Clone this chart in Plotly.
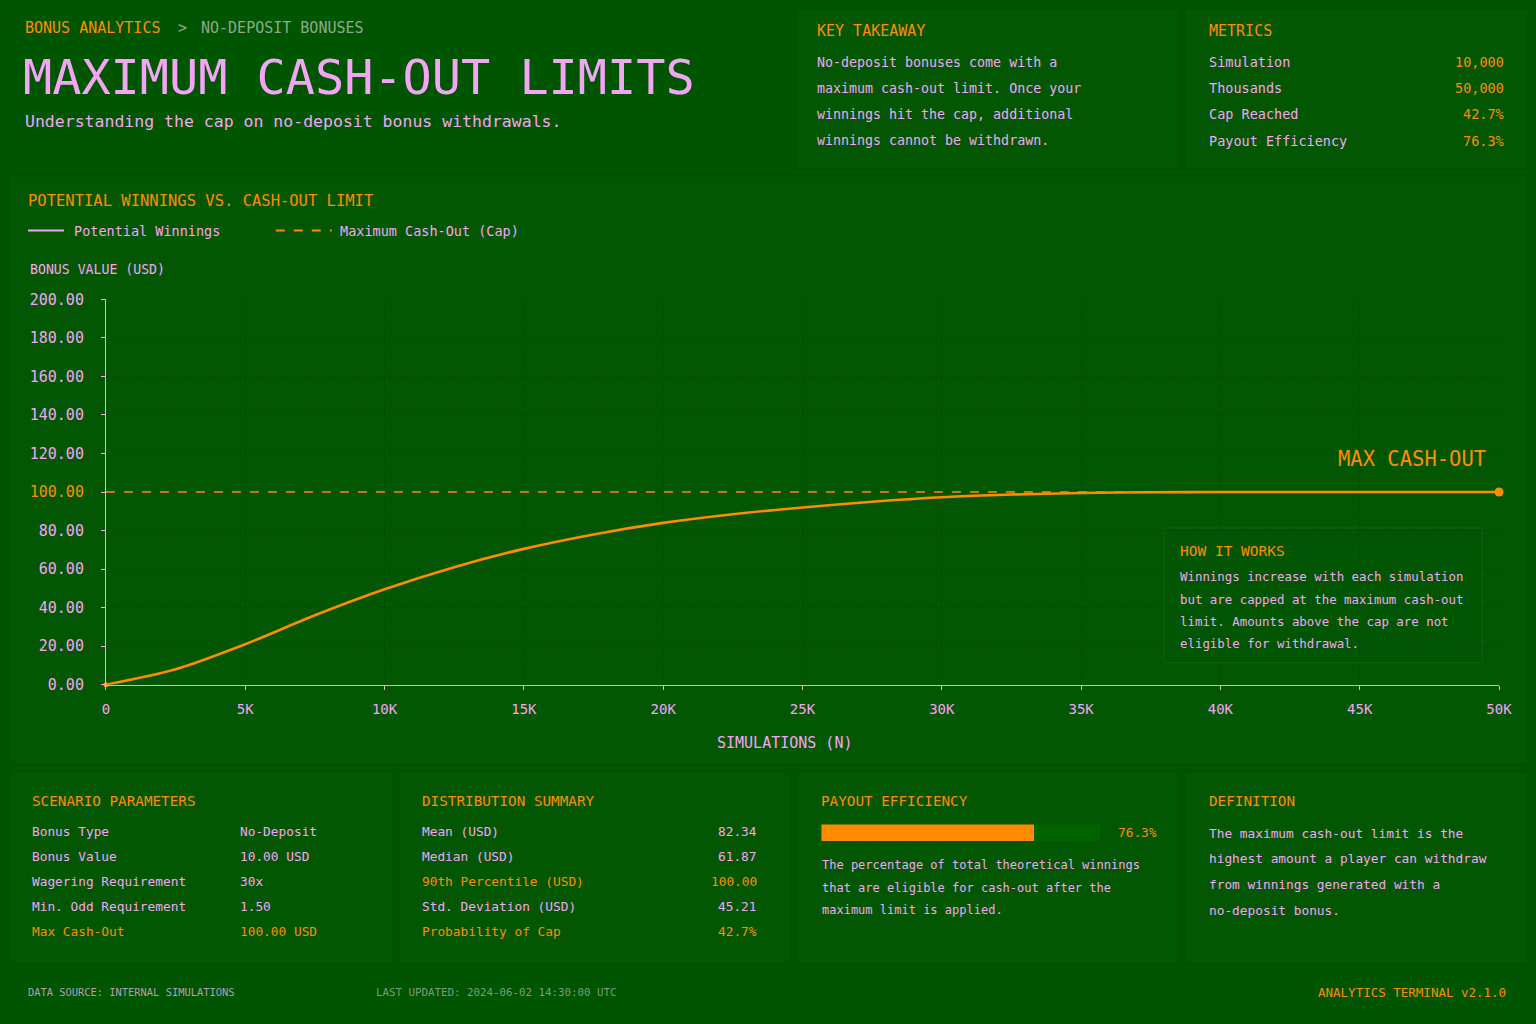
import plotly.graph_objects as go

W, H = 1536, 1024
# measured placement of the paper area in the rendered page
X_IN, Y_IN = 3, 8
PW, PH = 1520, 1008
F = "DejaVu Sans Mono"
BG = "#005500"
ORANGE = "#FF8C00"
PINK = "#F5A5F5"
GRAY = "#8FA88F"

# ---------------- data ----------------
sim_n = [0, 2500, 5000, 7500, 10000, 12500, 15000, 17500, 20000, 22500, 25000,
         27500, 30000, 32500, 35000, 37500, 40000, 42500, 45000, 47500, 50000]
winnings = [0, 8, 21, 36, 49.5, 61, 70.5, 78, 84, 88.5, 92,
            95, 97.3, 98.7, 99.5, 99.9, 100, 100, 100, 100, 100]
cap_value = 100
y_ticks = [0, 20, 40, 60, 80, 100, 120, 140, 160, 180, 200]
x_ticks = [0, 5000, 10000, 15000, 20000, 25000, 30000, 35000, 40000, 45000, 50000]
x_tick_labels = ["0", "5K", "10K", "15K", "20K", "25K", "30K", "35K", "40K", "45K", "50K"]

metric_labels = ["Simulation", "Thousands", "Cap Reached", "Payout Efficiency"]
metric_values = ["10,000", "50,000", "42.7%", "76.3%"]

param_labels = ["Bonus Type", "Bonus Value", "Wagering Requirement", "Min. Odd Requirement", "Max Cash-Out"]
param_values = ["No-Deposit", "10.00 USD", "30x", "1.50", "100.00 USD"]
param_hl = [False, False, False, False, True]

dist_labels = ["Mean (USD)", "Median (USD)", "90th Percentile (USD)", "Std. Deviation (USD)", "Probability of Cap"]
dist_values = ["82.34", "61.87", "100.00", "45.21", "42.7%"]
dist_hl = [False, False, True, False, True]

payout_efficiency = 76.3

takeaway_lines = ["No-deposit bonuses come with a", "maximum cash-out limit. Once your",
                  "winnings hit the cap, additional", "winnings cannot be withdrawn."]
how_lines = ["Winnings increase with each simulation", "but are capped at the maximum cash-out",
             "limit. Amounts above the cap are not", "eligible for withdrawal."]
payout_lines = ["The percentage of total theoretical winnings", "that are eligible for cash-out after the",
                "maximum limit is applied."]
definition_lines = ["The maximum cash-out limit is the", "highest amount a player can withdraw",
                    "from winnings generated with a", "no-deposit bonus."]

# ---------------- helpers ----------------
annotations = []
shapes = []


def px(x):
    return (x - X_IN) / PW


def py(y):
    return 1 - (y - Y_IN) / PH


def txt(x, y, s, size, color, anchor="left"):
    annotations.append(dict(x=px(x), y=py(y), xref="paper", yref="paper", text=s, showarrow=False,
                            xanchor=anchor, yanchor="middle",
                            font=dict(family=F, size=size, color=color)))


def rect(x0, y0, x1, y1, line="rgba(0,0,0,0.10)", fill="rgba(255,255,255,0.012)"):
    shapes.append(dict(type="rect", xref="paper", yref="paper", x0=px(x0), x1=px(x1), y0=py(y1), y1=py(y0),
                       line=dict(color=line, width=1), fillcolor=fill, layer="below"))


def hline(x0, x1, y, color, width=2, dash="solid"):
    shapes.append(dict(type="line", xref="paper", yref="paper", x0=px(x0), x1=px(x1), y0=py(y), y1=py(y),
                       line=dict(color=color, width=width, dash=dash)))


# ---------------- panels ----------------
rect(795, 8, 1180, 168)
rect(1184, 8, 1528, 168)
rect(8, 175, 1528, 765)
rect(8, 772, 393, 965)
rect(398, 772, 790, 965)
rect(795, 772, 1180, 965)
rect(1184, 772, 1528, 965)
rect(1164, 528, 1482, 663, line="rgba(255,255,255,0.07)", fill="rgba(0,0,0,0.02)")

# ---------------- header ----------------
txt(22, 27, "BONUS ANALYTICS", 15, ORANGE)
txt(175, 27, "&gt;", 15, GRAY)
txt(198, 27, "NO-DEPOSIT BONUSES", 15, GRAY)
txt(20, 76, "MAXIMUM CASH-OUT LIMITS", 48.5, PINK)
txt(22, 121, "Understanding the cap on no-deposit bonus withdrawals.", 16.5, PINK)

txt(815, 30, "KEY TAKEAWAY", 15, ORANGE)
for i, s in enumerate(takeaway_lines):
    txt(815, 62 + 26 * i, s, 13.3, PINK)

txt(1207, 30, "METRICS", 15, ORANGE)
for i, (l, v) in enumerate(zip(metric_labels, metric_values)):
    txt(1207, 61 + 26.3 * i, l, 13.5, PINK)
    txt(1506, 61 + 26.3 * i, v, 13.5, ORANGE, anchor="right")

# ---------------- chart labels ----------------
txt(25, 200, "POTENTIAL WINNINGS VS. CASH-OUT LIMIT", 15.5, ORANGE)
hline(27, 63, 230, PINK, 2)
txt(71, 230, "Potential Winnings", 13.5, PINK)
hline(275, 331, 230, ORANGE, 2, "dash")
txt(337, 230, "Maximum Cash-Out (Cap)", 13.5, PINK)
txt(27, 269, "BONUS VALUE (USD)", 13.2, PINK)
txt(784, 743, "SIMULATIONS (N)", 15, PINK, anchor="center")
txt(1488, 459, "MAX CASH-OUT", 20.5, ORANGE, anchor="right")

txt(1178, 551, "HOW IT WORKS", 14.5, ORANGE)
for i, s in enumerate(how_lines):
    txt(1178, 577 + 22.4 * i, s, 12.4, PINK)

# ---------------- bottom panels ----------------
txt(29, 802, "SCENARIO PARAMETERS", 14.3, ORANGE)
for i, (l, v, h) in enumerate(zip(param_labels, param_values, param_hl)):
    c = ORANGE if h else PINK
    txt(29, 832 + 25 * i, l, 12.8, c)
    txt(237, 832 + 25 * i, v, 12.8, c)

txt(419, 802, "DISTRIBUTION SUMMARY", 14.3, ORANGE)
for i, (l, v, h) in enumerate(zip(dist_labels, dist_values, dist_hl)):
    c = ORANGE if h else PINK
    txt(419, 832 + 25 * i, l, 12.8, c)
    txt(758, 832 + 25 * i, v, 12.8, c, anchor="right")

txt(819, 802, "PAYOUT EFFICIENCY", 14.3, ORANGE)
txt(1159, 833, f"{payout_efficiency:.1f}%", 12.8, ORANGE, anchor="right")
for i, s in enumerate(payout_lines):
    txt(820, 866 + 22.3 * i, s, 12, PINK)

txt(1207, 802, "DEFINITION", 14.3, ORANGE)
for i, s in enumerate(definition_lines):
    txt(1207, 834 + 25.6 * i, s, 12.8, PINK)

# ---------------- footer ----------------
txt(25, 993, "DATA SOURCE: INTERNAL SIMULATIONS", 10.4, "#b89cb8")
txt(373, 993, "LAST UPDATED: 2024-06-02 14:30:00 UTC", 10.8, "#7c9c7c")
txt(1508, 993, "ANALYTICS TERMINAL v2.1.0", 12.5, ORANGE, anchor="right")

# ---------------- traces ----------------
fig = go.Figure()
fig.add_trace(go.Scatter(x=[sim_n[0], sim_n[-1]], y=[cap_value, cap_value], mode="lines",
                         line=dict(color=ORANGE, width=1.6, dash="dash"), hoverinfo="skip",
                         name="Maximum Cash-Out (Cap)", showlegend=False))
fig.add_trace(go.Scatter(x=sim_n, y=winnings, mode="lines",
                         line=dict(color=ORANGE, width=2.6, shape="spline", smoothing=0.8),
                         name="Potential Winnings", showlegend=False, cliponaxis=False))
fig.add_trace(go.Scatter(x=[sim_n[-1]], y=[winnings[-1]], mode="markers",
                         marker=dict(color=ORANGE, size=9), showlegend=False, cliponaxis=False))
fig.add_trace(go.Scatter(x=[sim_n[0]], y=[winnings[0]], mode="markers",
                         marker=dict(color=ORANGE, size=5), showlegend=False, cliponaxis=False))

# payout bar
fig.add_trace(go.Bar(x=[100], y=["eff"], orientation="h", marker=dict(color="#006300", line=dict(width=0)),
                     xaxis="x2", yaxis="y2", showlegend=False, hoverinfo="skip"))
fig.add_trace(go.Bar(x=[payout_efficiency], y=["eff"], orientation="h", marker=dict(color=ORANGE, line=dict(width=0)),
                     xaxis="x2", yaxis="y2", showlegend=False))

y_tick_text = []
for v in y_ticks:
    s = f"{v:.2f}"
    if v == cap_value:
        s = f'<span style="color:{ORANGE}">{s}</span>'
    y_tick_text.append(s)

fig.update_layout(
    width=W, height=H, margin=dict(l=0, r=0, t=0, b=0),
    paper_bgcolor=BG, plot_bgcolor=BG,
    barmode="overlay", bargap=0,
    annotations=annotations, shapes=shapes,
    xaxis=dict(domain=[px(105), px(1499)], range=[0, 50000], tickvals=x_ticks, ticktext=x_tick_labels,
               showline=True, linecolor="#d8b4d8", linewidth=1, ticks="outside", ticklen=4,
               tickcolor="#d8b4d8", tickfont=dict(family=F, size=14, color=PINK),
               ticklabelstandoff=8, showgrid=True, gridcolor="rgba(0,0,0,0.13)", griddash="dot",
               zeroline=False, fixedrange=True),
    yaxis=dict(domain=[py(685), py(299)], range=[0, 200], tickvals=y_ticks, ticktext=y_tick_text,
               showline=True, linecolor=PINK, linewidth=1, ticks="outside", ticklen=4,
               tickcolor=PINK, tickfont=dict(family=F, size=15, color=PINK),
               ticklabelstandoff=14, showgrid=True, gridcolor="rgba(0,0,0,0.13)", griddash="dot",
               zeroline=False, fixedrange=True),
    xaxis2=dict(domain=[px(821), px(1100)], range=[0, 100], visible=False, anchor="y2", fixedrange=True),
    yaxis2=dict(domain=[py(842), py(825)], range=[-0.5, 0.5], visible=False, anchor="x2", fixedrange=True),
)

fig.write_html("out.html")
